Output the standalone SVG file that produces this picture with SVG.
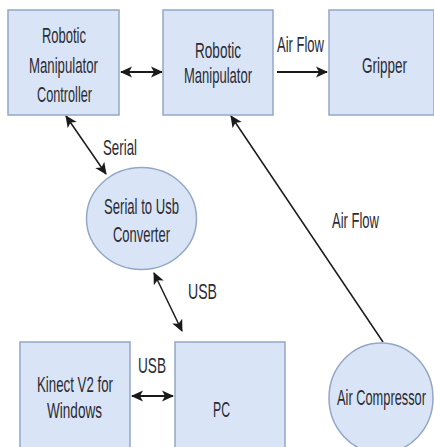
<svg xmlns="http://www.w3.org/2000/svg" width="434" height="447" viewBox="0 0 434 447">
<style>
.box{fill:#d9e5f6;stroke:#93a7c6;stroke-width:1.5}
.lbl{font-family:"Liberation Sans",Arial,sans-serif;font-size:22.5px;fill:#2b2b35}
.conn{stroke:#1a1a1a;stroke-width:2;fill:none}
.thin{stroke:#1a1a1a;stroke-width:1.5;fill:none}
</style>
<defs>
<marker id="ah" markerUnits="userSpaceOnUse" markerWidth="13" markerHeight="13" viewBox="0 0 13 13" refX="11" refY="6.5" orient="auto-start-reverse">
<path d="M0,1 L12,6.5 L0,12 L3,6.5 Z" fill="#1a1a1a"/>
</marker>
</defs>
<rect width="434" height="447" fill="#ffffff"/>
<g id="connectors">
<line class="conn" x1="121" y1="72" x2="162" y2="72" marker-start="url(#ah)" marker-end="url(#ah)"/>
<line class="conn" x1="277" y1="72" x2="327" y2="72" marker-end="url(#ah)"/>
<line class="thin" x1="66" y1="116" x2="106" y2="174" marker-start="url(#ah)" marker-end="url(#ah)"/>
<line class="thin" x1="383" y1="342" x2="231" y2="116" marker-end="url(#ah)"/>
<line class="thin" x1="154" y1="273" x2="182" y2="331" marker-start="url(#ah)" marker-end="url(#ah)"/>
<line class="conn" x1="132" y1="396" x2="173" y2="396" marker-start="url(#ah)" marker-end="url(#ah)"/>
<text class="lbl" x="277" y="52" textLength="47" lengthAdjust="spacingAndGlyphs">Air Flow</text>
<text class="lbl" x="103" y="155" textLength="34" lengthAdjust="spacingAndGlyphs">Serial</text>
<text class="lbl" x="332" y="228" textLength="47" lengthAdjust="spacingAndGlyphs">Air Flow</text>
<text class="lbl" x="188" y="299" textLength="29" lengthAdjust="spacingAndGlyphs">USB</text>
<text class="lbl" x="138" y="373" textLength="28" lengthAdjust="spacingAndGlyphs">USB</text>
</g>
<g id="controller">
<rect class="box" x="8" y="10" width="111" height="105"/>
<text class="lbl" x="42" y="43" textLength="44" lengthAdjust="spacingAndGlyphs">Robotic</text>
<text class="lbl" x="29" y="73" textLength="69" lengthAdjust="spacingAndGlyphs">Manipulator</text>
<text class="lbl" x="37" y="102" textLength="55" lengthAdjust="spacingAndGlyphs">Controller</text>
</g>
<g id="manipulator">
<rect class="box" x="163" y="10" width="110" height="105"/>
<text class="lbl" x="195" y="58" textLength="46" lengthAdjust="spacingAndGlyphs">Robotic</text>
<text class="lbl" x="184" y="83" textLength="68" lengthAdjust="spacingAndGlyphs">Manipulator</text>
</g>
<g id="gripper">
<rect class="box" x="329" y="10" width="105" height="105"/>
<text class="lbl" x="362" y="73" textLength="45" lengthAdjust="spacingAndGlyphs">Gripper</text>
</g>
<g id="converter">
<ellipse class="box" cx="141.5" cy="218.5" rx="55" ry="51"/>
<text class="lbl" x="104" y="214" textLength="75" lengthAdjust="spacingAndGlyphs">Serial to Usb</text>
<text class="lbl" x="113" y="242" textLength="57" lengthAdjust="spacingAndGlyphs">Converter</text>
</g>
<g id="kinect">
<rect class="box" x="20" y="342" width="110" height="110"/>
<text class="lbl" x="37" y="392" textLength="76" lengthAdjust="spacingAndGlyphs">Kinect V2 for</text>
<text class="lbl" x="47" y="418" textLength="55" lengthAdjust="spacingAndGlyphs">Windows</text>
</g>
<g id="pc">
<rect class="box" x="175" y="342" width="110" height="110"/>
<text class="lbl" x="213" y="417" textLength="17" lengthAdjust="spacingAndGlyphs">PC</text>
</g>
<g id="compressor">
<ellipse class="box" cx="381" cy="398" rx="52" ry="55"/>
<text class="lbl" x="337" y="405" textLength="89" lengthAdjust="spacingAndGlyphs">Air Compressor</text>
</g>
</svg>
